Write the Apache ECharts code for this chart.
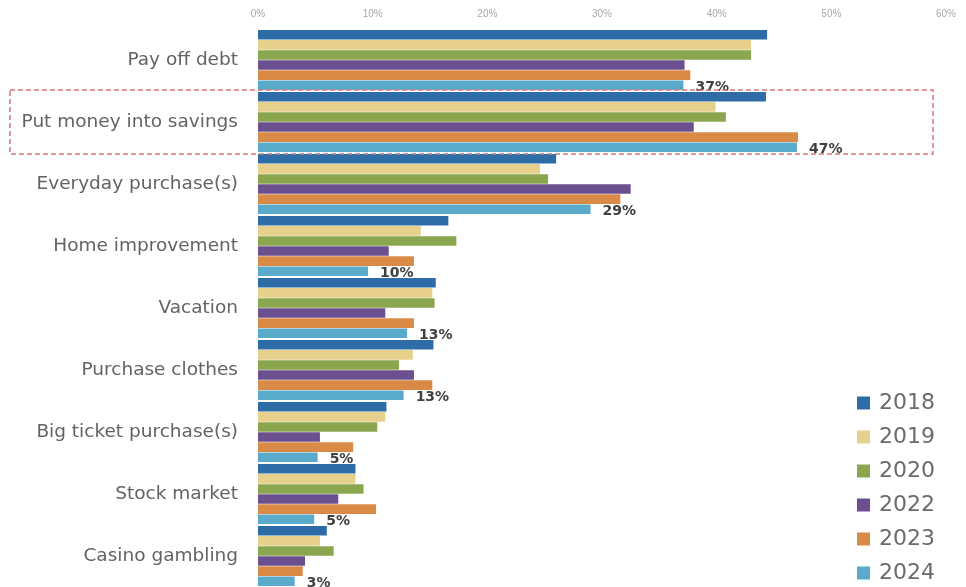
<!DOCTYPE html>
<html>
<head>
<meta charset="utf-8">
<script src="https://cdn.jsdelivr.net/npm/echarts@6/dist/echarts.min.js"></script>
<style>html,body{margin:0;padding:0;background:#fff;}#c{width:966px;height:587px;}</style>
</head>
<body>
<div id="c"></div>
<script>
var categories = ["Pay off debt","Put money into savings","Everyday purchase(s)","Home improvement","Vacation","Purchase clothes","Big ticket purchase(s)","Stock market","Casino gambling"];
var years = ["2018","2019","2020","2022","2023","2024"];
var v2018 = [44.4, 44.3, 26.0, 16.6, 15.5, 15.3, 11.2, 8.5, 6.0];
var v2019 = [43.0, 39.9, 24.6, 14.2, 15.2, 13.5, 11.1, 8.5, 5.4];
var v2020 = [43.0, 40.8, 25.3, 17.3, 15.4, 12.3, 10.4, 9.2, 6.6];
var v2022 = [37.2, 38.0, 32.5, 11.4, 11.1, 13.6, 5.4, 7.0, 4.1];
var v2023 = [37.7, 47.1, 31.6, 13.6, 13.6, 15.2, 8.3, 10.3, 3.9];
var v2024 = [37.1, 47.0, 29.0, 9.6, 13.0, 12.7, 5.2, 4.9, 3.2];
var xTicks = [0, 10, 20, 30, 40, 50, 60];

var seriesValues = [v2018, v2019, v2020, v2022, v2023, v2024];
var colors = ["#2e6ca8", "#e6d08c", "#8aa64e", "#6b4f8e", "#d98a47", "#5aaacb"];

var chart = echarts.init(document.getElementById('c'), null, {renderer: 'canvas'});

var series = years.map(function (y, i) {
  var s = {
    name: y,
    type: 'bar',
    data: seriesValues[i],
    barGap: '5%',
    barCategoryGap: '3%',
    itemStyle: {color: colors[i]},
    animation: false
  };
  if (i === years.length - 1) {
    s.label = {
      show: true,
      position: 'right',
      distance: 12,
      offset: [0, 2],
      fontSize: 14,
      fontWeight: 'bold',
      fontFamily: 'DejaVu Sans, sans-serif',
      color: '#404040',
      formatter: function (p) { return Math.round(p.value) + '%'; }
    };
  }
  return s;
});

chart.setOption({
  animation: false,
  color: colors,
  grid: {left: 258, right: 20, top: 29, bottom: -2, containLabel: false},
  legend: {
    orient: 'vertical',
    left: 852,
    top: 387,
    height: 240,
    itemWidth: 13,
    itemHeight: 13,
    itemGap: 12,
    icon: 'rect',
    data: years,
    textStyle: {fontSize: 22, color: '#6b6b6b', fontFamily: 'DejaVu Sans, sans-serif', lineHeight: 22, padding: [0, 0, 0, 4]}
  },
  xAxis: {
    type: 'value',
    position: 'top',
    min: xTicks[0],
    max: xTicks[xTicks.length - 1],
    interval: 10,
    axisLine: {show: false},
    axisTick: {show: false},
    splitLine: {show: false},
    axisLabel: {
      margin: 10,
      fontSize: 10,
      color: '#a8a8a8',
      fontFamily: 'Liberation Sans, Arial, sans-serif',
      formatter: function (v) { return v + '%'; }
    }
  },
  yAxis: {
    type: 'category',
    inverse: true,
    data: categories,
    axisLine: {show: false},
    axisTick: {show: false},
    axisLabel: {
      margin: 20,
      fontSize: 18.5,
      color: '#636363',
      fontFamily: 'DejaVu Sans, sans-serif'
    }
  },
  series: series
});

var c1 = chart.convertToPixel({yAxisIndex: 0}, categories[1]);
var c2 = chart.convertToPixel({yAxisIndex: 0}, categories[2]);
var half = (c2 - c1) / 2;
chart.setOption({
  graphic: [{
    type: 'rect',
    shape: {x: 10, y: c1 - half - 1, width: 923, height: 2 * half + 2},
    style: {fill: 'none', stroke: '#d07a7a', lineWidth: 1.5, lineDash: [5, 3]},
    silent: true,
    z: 10
  }]
});
</script>
</body>
</html>
